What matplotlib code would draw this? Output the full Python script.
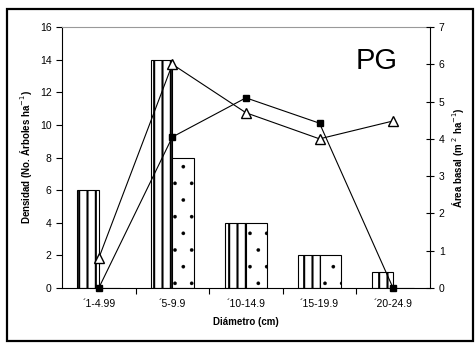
import numpy as np
import matplotlib.pyplot as plt
from matplotlib.patches import Rectangle

plt.rcParams['font.family'] = ['Liberation Sans', 'DejaVu Sans']

clases = ['´1-4.99', '´5-9.9', '´10-14.9', '´15-19.9', '´20-24.9']
dens_a = [6, 14, 4, 2, 1]
dens_b = [0, 8, 4, 2, 0]
area_cuad = [0, 4.05, 5.1, 4.42, 0]
area_tri = [0.8, 6.0, 4.7, 4.0, 4.48]

x = np.arange(len(clases))
w = 0.29

fig = plt.figure(figsize=(4.75, 3.43), dpi=100)
fig.patches.append(Rectangle((0.015, 0.006), 0.98, 0.968, transform=fig.transFigure,
                             fill=False, edgecolor='black', linewidth=1.6))
ax = fig.add_axes([0.1305, 0.1603, 0.7745, 0.761])

b1 = ax.bar(x - w / 2, dens_a, w, facecolor='white', edgecolor='black', hatch='||', linewidth=0.8)
b2 = ax.bar(x + w / 2, dens_b, w, facecolor='white', edgecolor='black', hatch='.', linewidth=0.8)
for p in b1:
    p.set_hatch_linewidth(1.5)
for p in b2:
    p.set_hatch_linewidth(0.2)

ax.set_xlim(-0.5, 4.5)
ax.set_ylim(0, 16)
ax.set_yticks(range(0, 17, 2))
ax.set_xticks(x)
ax.set_xticklabels(clases)
ax.set_xticks(np.arange(0.5, 4.5, 1), minor=True)
ax.tick_params(axis='x', which='major', length=0, labelsize=7.5, pad=8)
ax.tick_params(axis='x', which='minor', length=4, width=0.8)
ax.tick_params(axis='y', length=4, width=0.8, labelsize=7.5)
ax.spines['top'].set_color('#999999')
ax.spines['right'].set_visible(False)
ax.set_ylabel('Densidad (No. Árboles ha$^{-1}$)', fontsize=7, fontweight='bold')
ax.set_xlabel('Diámetro (cm)', fontsize=7, fontweight='bold', labelpad=6)

ax2 = ax.twinx()
ax2.plot(x, area_cuad, color='black', linewidth=0.8, marker='s', markersize=5,
         markerfacecolor='black', clip_on=False, zorder=3)
ax2.plot(x, area_tri, color='black', linewidth=0.8, marker='^', markersize=6.5,
         markerfacecolor='white', clip_on=False, zorder=3)
ax2.set_ylim(0, 7)
ax2.set_yticks(range(0, 8))
ax2.tick_params(axis='y', direction='inout', length=6, width=0.8, labelsize=7.5)
for s in ['top', 'left', 'bottom']:
    ax2.spines[s].set_visible(False)
ax2.set_ylabel('Área basal (m $^2$ ha$^{-1}$)', fontsize=7, fontweight='bold')

ax2.text(3.77, 6.1, 'PG', fontsize=21, ha='center', va='center')

fig.savefig('out.png', dpi=100)
